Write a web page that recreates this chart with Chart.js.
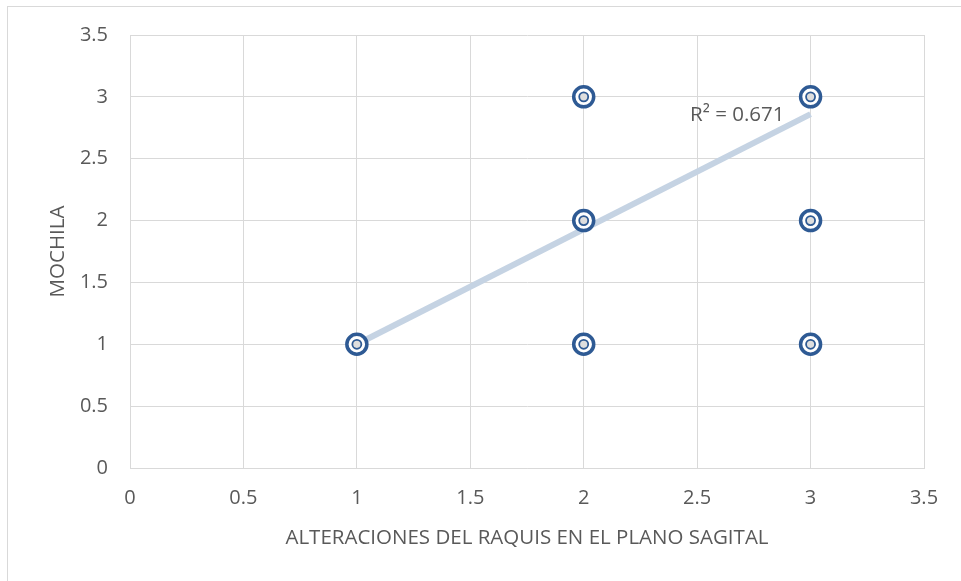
<!DOCTYPE html>
<html lang="es">
<head>
    <meta charset="UTF-8">
    <title>Mochila vs alteraciones del raquis</title>
    <script src="https://cdn.jsdelivr.net/npm/chart.js"></script>
    <style>
        body { margin: 0; background: #fff; }
        #wrap { width: 961px; height: 581px; }
    </style>
</head>
<body>
    <div id="wrap"><canvas id="miGrafica"></canvas></div>

    <script>
        // datos
        const alteraciones = [1, 2, 2, 2, 3, 3, 3];
        const mochila = [1, 1, 2, 3, 1, 2, 3];
        const tendenciaX = [1, 3];
        const tendenciaY = [1.0, 2.86];
        const r2Texto = 'R² = 0.671';
        const ticksEje = [0, 0.5, 1, 1.5, 2, 2.5, 3, 3.5];

        const puntos = alteraciones.map((x, i) => ({ x: x, y: mochila[i] }));
        const linea = tendenciaX.map((x, i) => ({ x: x, y: tendenciaY[i] }));

        const gris = '#595959';
        const azul = '#2E5A94';
        const fuente = "'Open Sans', sans-serif";

        // marco exterior y etiqueta R²
        const extras = {
            id: 'extras',
            beforeDraw(chart) {
                const c = chart.ctx;
                c.save();
                c.strokeStyle = '#d9d9d9';
                c.lineWidth = 1;
                c.strokeRect(7.5, 6.5, 990, 600);
                c.restore();
            },
            afterDatasetsDraw(chart) {
                const c = chart.ctx;
                const sx = chart.scales.x, sy = chart.scales.y;
                c.save();
                c.font = '20.5px ' + fuente;
                c.fillStyle = gris;
                c.textAlign = 'right';
                c.textBaseline = 'middle';
                c.fillText(r2Texto, sx.getPixelForValue(2.885), sy.getPixelForValue(2.85));
                c.restore();
            }
        };

        const formato = v => String(v);

        const ctx = document.getElementById('miGrafica').getContext('2d');
        new Chart(ctx, {
            type: 'scatter',
            data: {
                datasets: [
                    {
                        label: 'Tendencia',
                        type: 'line',
                        data: linea,
                        borderColor: '#C5D3E3',
                        borderWidth: 6,
                        pointRadius: 0,
                        fill: false,
                        order: 3
                    },
                    {
                        label: 'Mochila',
                        data: puntos,
                        pointRadius: 10,
                        pointBorderWidth: 3.5,
                        pointBorderColor: azul,
                        pointBackgroundColor: '#ffffff',
                        order: 2
                    },
                    {
                        label: 'Mochila centro',
                        data: puntos,
                        pointRadius: 4.5,
                        pointBorderWidth: 1.8,
                        pointBorderColor: azul,
                        pointBackgroundColor: '#dedede',
                        order: 1
                    }
                ]
            },
            options: {
                responsive: true,
                maintainAspectRatio: false,
                animation: false,
                layout: { padding: { left: 40, right: 37, top: 35, bottom: 30 } },
                plugins: {
                    legend: { display: false },
                    tooltip: { enabled: false }
                },
                scales: {
                    x: {
                        type: 'linear',
                        min: 0,
                        max: 3.5,
                        afterBuildTicks: s => { s.ticks = ticksEje.map(v => ({ value: v })); },
                        afterFit: s => { s.height = 83; },
                        grid: { color: '#d9d9d9', drawTicks: false },
                        border: { color: '#d9d9d9' },
                        ticks: { color: gris, padding: 18, callback: formato, font: { family: fuente, size: 20 } },
                        title: {
                            display: true,
                            text: 'ALTERACIONES DEL RAQUIS EN EL PLANO SAGITAL',
                            color: gris,
                            font: { family: fuente, size: 20.5 },
                            padding: { top: 0, bottom: 1 }
                        }
                    },
                    y: {
                        type: 'linear',
                        min: 0,
                        max: 3.5,
                        afterBuildTicks: s => { s.ticks = ticksEje.map(v => ({ value: v })); },
                        afterFit: s => { s.width = 90; },
                        grid: { color: '#d9d9d9', drawTicks: false },
                        border: { color: '#d9d9d9' },
                        ticks: { color: gris, padding: 22, callback: formato, font: { family: fuente, size: 20 } },
                        title: {
                            display: true,
                            text: 'MOCHILA',
                            color: gris,
                            font: { family: fuente, size: 20.5 },
                            padding: { top: 6, bottom: 0 }
                        }
                    }
                }
            },
            plugins: [extras]
        });
    </script>
</body>
</html>
